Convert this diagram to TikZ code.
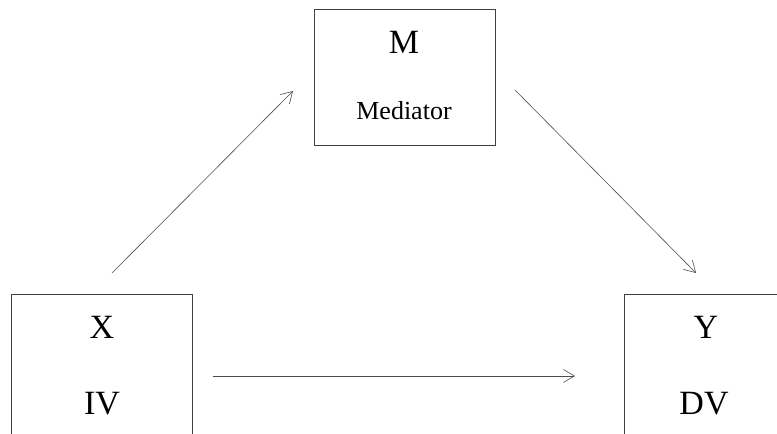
\documentclass[tikz,border=0pt]{standalone}
\usepackage{fontspec}
\setmainfont{Liberation Serif}
\usetikzlibrary{arrows.meta}
\begin{document}
\begin{tikzpicture}[x=1pt,y=-1pt,
  box/.style={draw=black!75,line width=0.9pt,minimum width=181pt,inner sep=0pt},
  big/.style={anchor=base,font=\fontsize{34}{40}\selectfont,inner sep=0pt},
  small/.style={anchor=base,font=\fontsize{26}{30}\selectfont,inner sep=0pt},
  conn/.style={draw=black!70,line width=0.6pt,-{Straight Barb[length=11pt,width=13pt,line width=0.6pt]}}]
\useasboundingbox (0,0) rectangle (777,434);
\clip (0,0) rectangle (777,434);
% boxes
\node[box,minimum height=136pt] (mbox) at (404.5,77) {};
\node[box,minimum height=150pt] (xbox) at (101.5,369) {};
\node[box,minimum height=150pt] (ybox) at (714.5,369) {};
% texts
\node[big] (mlab) at (404,53) {M};
\node[small] (medlab) at (404,119) {Mediator};
\node[big] (xlab) at (102,338) {X};
\node[big] (ivlab) at (102,414) {IV};
\node[big] (ylab) at (706,338) {Y};
\node[big] (dvlab) at (704,414) {DV};
% connector ends
\coordinate (a1) at (112,273);
\coordinate (a2) at (293,91);
\coordinate (b1) at (515,90);
\coordinate (b2) at (696,273);
\coordinate (c1) at (213,376);
\coordinate (c2) at (575,376);
\draw[conn] (a1) -- (a2);
\draw[conn] (b1) -- (b2);
\draw[conn] (c1) -- (c2);
\end{tikzpicture}
\end{document}
